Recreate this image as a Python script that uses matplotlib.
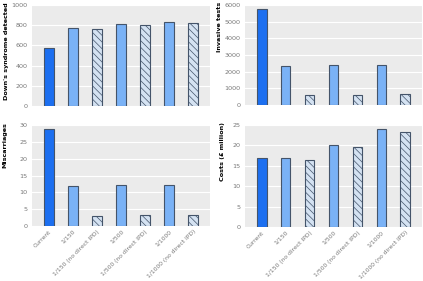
import matplotlib
matplotlib.use("Agg")
import matplotlib.pyplot as plt
import numpy as np

categories = ["Current", "1/150", "1/150 (no direct IPD)", "1/500",
              "1/500 (no direct IPD)", "1/1000", "1/1000 (no direct IPD)"]
downs = [575, 775, 765, 815, 805, 835, 825]
invasive = [5750, 2350, 600, 2400, 620, 2430, 640]
miscarriages = [28.7, 11.9, 3.0, 12.1, 3.2, 12.2, 3.2]
costs = [17.0, 17.0, 16.3, 20.0, 19.5, 23.9, 23.2]

plt.rcParams['hatch.linewidth'] = 0.5
plt.rcParams['font.family'] = ['DejaVu Sans']

fig = plt.figure(figsize=(4.23, 2.81), dpi=100)
W, H = 423, 281

def ax_at(l, t, r, b):
    return fig.add_axes([l / W, 1 - b / H, (r - l) / W, (b - t) / H])

axes = [
    (ax_at(32, 5, 210, 106), downs, "Down's syndrome detected", [0, 200, 400, 600, 800, 1000], False, -0.145),
    (ax_at(245, 5, 422, 105), invasive, "Invasive tests", [0, 1000, 2000, 3000, 4000, 5000, 6000], False, -0.145),
    (ax_at(32, 125, 210, 226), miscarriages, "Miscarriages", [0, 5, 10, 15, 20, 25, 30], True, -0.15),
    (ax_at(245, 125, 422, 227), costs, "Costs (£ million)", [0, 5, 10, 15, 20, 25], True, -0.125),
]

face = ["#1c6ff0", "#7ab2f6", "#d4e2f2", "#7ab2f6", "#d4e2f2", "#7ab2f6", "#d4e2f2"]
hatch = [None, None, "\\\\\\\\\\", None, "\\\\\\\\\\", None, "\\\\\\\\\\"]
edge = "#44546a"

x = np.arange(len(categories))
for ax, vals, lab, ticks, showx, lx in axes:
    ax.set_facecolor("#ebebeb")
    for i in range(len(vals)):
        ax.bar(x[i], vals[i], width=0.4, color=face[i], edgecolor=edge,
               linewidth=0.8, hatch=hatch[i], zorder=3)
    ax.set_xlim(-0.7, 6.7)
    ax.set_ylim(ticks[0], ticks[-1])
    ax.set_yticks(ticks)
    ax.grid(axis='y', color='white', linewidth=0.8, zorder=0)
    for s in ax.spines.values():
        s.set_visible(False)
    ax.tick_params(axis='y', length=0, labelsize=4.6, labelcolor="#777777", pad=3)
    ax.tick_params(axis='x', length=0, pad=2)
    ax.set_ylabel(lab, fontsize=4.6, fontweight='bold')
    ax.yaxis.set_label_coords(lx, 1.03)
    ax.yaxis.label.set_rotation_mode('anchor')
    ax.yaxis.label.set_horizontalalignment('right')
    ax.yaxis.label.set_verticalalignment('center')
    ax.set_xticks(x)
    if showx:
        ax.set_xticklabels(categories, rotation=45, ha='right', rotation_mode='anchor',
                           fontsize=4.3, color="#777777")
    else:
        ax.set_xticklabels([])

fig.savefig("out.png", dpi=100)
